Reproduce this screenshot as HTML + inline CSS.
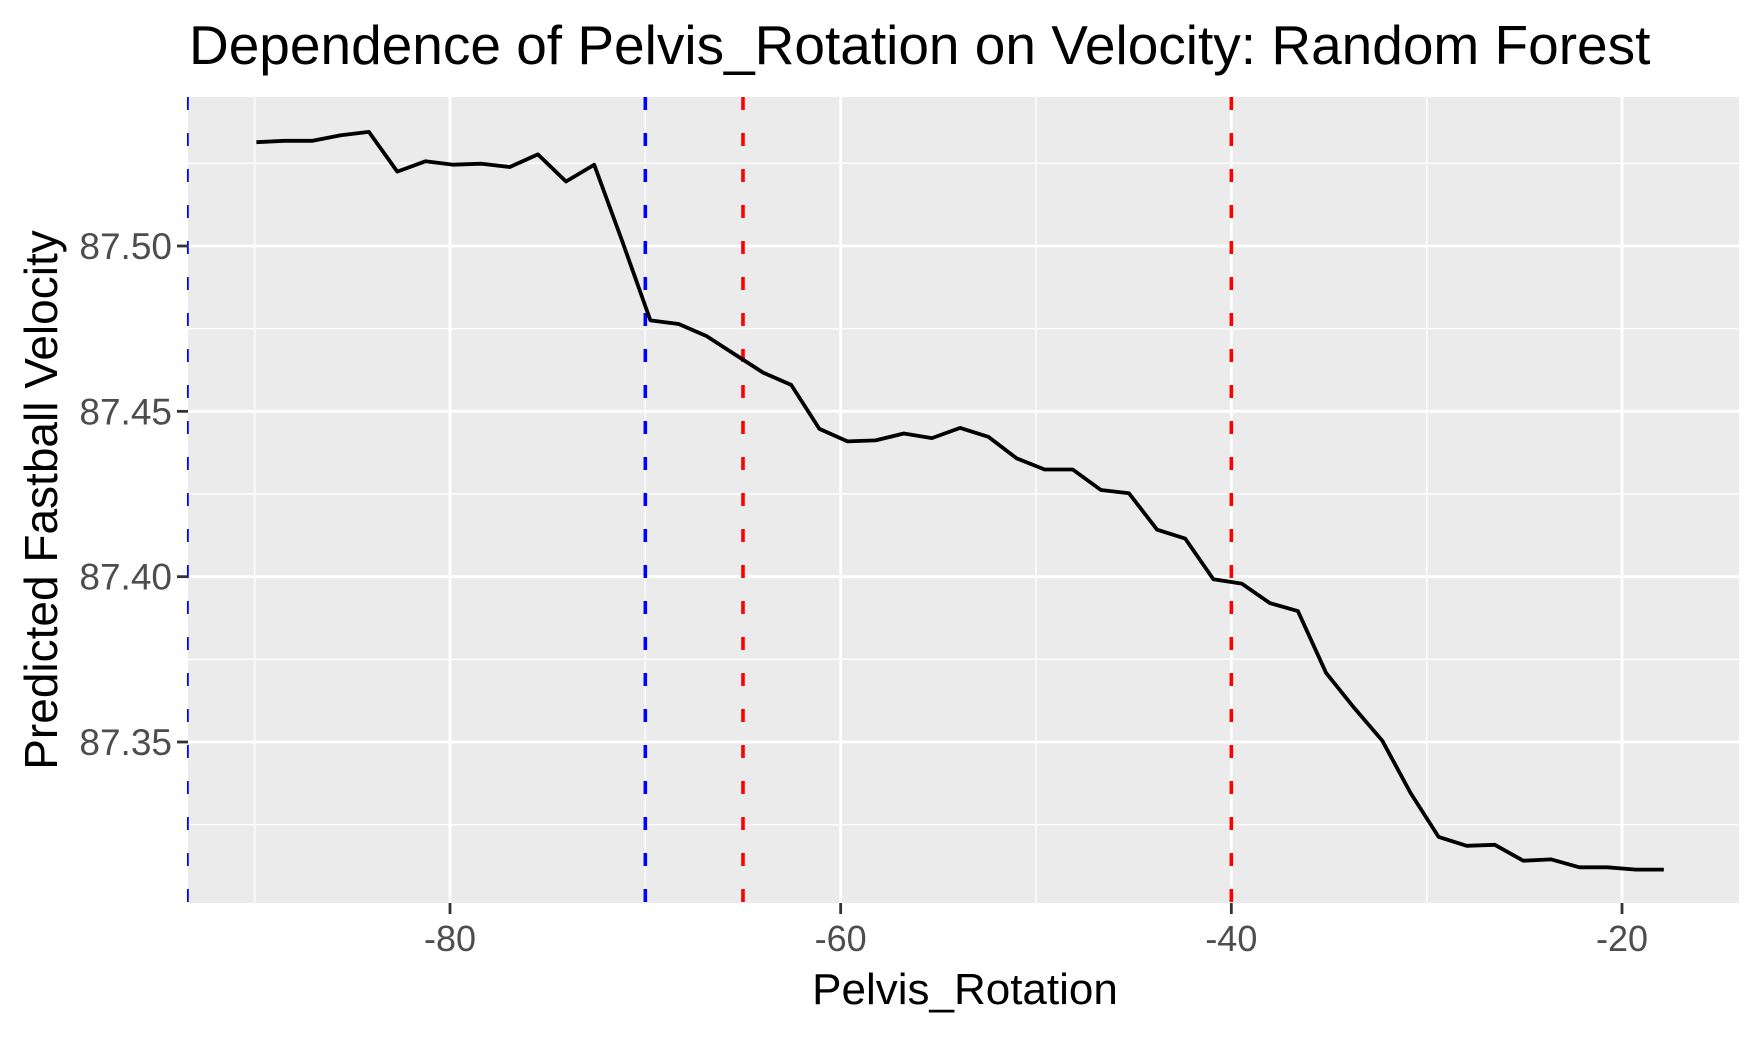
<!DOCTYPE html>
<html><head><meta charset="utf-8"><style>
html,body{margin:0;padding:0;background:#fff;}
svg text{font-family:"Liberation Sans",Arial,sans-serif;}
</style></head><body>
<svg id="chart" width="1762" height="1032" xmlns="http://www.w3.org/2000/svg">
<rect width="1762" height="1032" fill="#fff"/>
<text x="189" y="64" font-size="55" fill="#000">Dependence of Pelvis_Rotation on Velocity: Random Forest</text>
<rect x="188" y="97" width="1551" height="806" fill="#ebebeb"/>
<g id="grid"></g>
<g id="vlines"></g>
<g id="series"></g>
<g id="axes"></g>
<text x="965" y="1004" font-size="44" text-anchor="middle" fill="#000">Pelvis_Rotation</text>
<text transform="translate(57,500) rotate(-90)" font-size="46" text-anchor="middle" fill="#000">Predicted Fastball Velocity</text>
</svg>
<script>
const xValues=[-89.91,-88.47,-87.03,-85.59,-84.15,-82.70,-81.26,-79.82,-78.38,-76.94,-75.50,-74.06,-72.62,-71.18,-69.74,-68.29,-66.85,-65.41,-63.97,-62.53,-61.09,-59.65,-58.21,-56.77,-55.33,-53.88,-52.44,-51.00,-49.56,-48.12,-46.68,-45.24,-43.80,-42.36,-40.92,-39.47,-38.03,-36.59,-35.15,-33.71,-32.27,-30.83,-29.39,-27.95,-26.51,-25.06,-23.62,-22.18,-20.74,-19.30,-17.86];
const yValues=[87.5314,87.5318,87.5318,87.5335,87.5345,87.5225,87.5256,87.5246,87.5249,87.5239,87.5277,87.5195,87.5246,87.5014,87.4775,87.4764,87.4727,87.4672,87.4617,87.4580,87.4447,87.4409,87.4412,87.4433,87.4419,87.4450,87.4423,87.4358,87.4324,87.4324,87.4262,87.4252,87.4142,87.4115,87.3992,87.3979,87.3920,87.3896,87.3709,87.3603,87.3504,87.3346,87.3213,87.3186,87.3189,87.3141,87.3145,87.3121,87.3121,87.3114,87.3114];
const xTicks=[-80,-60,-40,-20];
const xTickLabels=["-80","-60","-40","-20"];
const xMinor=[-90,-70,-50,-30];
const yTicks=[87.35,87.40,87.45,87.50];
const yTickLabels=["87.35","87.40","87.45","87.50"];
const yMinor=[87.325,87.375,87.425,87.475,87.525];
const blueLines=[-93.42,-70];
const redLines=[-65,-40];

const NS="http://www.w3.org/2000/svg";
const PX0=188,PX1=1739,PY0=97,PY1=903;
function sx(v){return 450+(v+80)*(1622-450)/60;}
function sy(v){return 742-(v-87.35)*(742-246)/0.15;}
function mk(tag,attrs,parent){const e=document.createElementNS(NS,tag);for(const k in attrs)e.setAttribute(k,attrs[k]);document.getElementById(parent).appendChild(e);return e;}

xMinor.forEach(v=>{const l=mk('line',{x1:sx(v),x2:sx(v),y1:PY0,y2:PY1,stroke:'#fff','stroke-width':1.4},'grid');

});
yMinor.forEach(v=>{const l=mk('line',{x1:PX0,x2:PX1,y1:sy(v),y2:sy(v),stroke:'#fff','stroke-width':1.4},'grid');

});
xTicks.forEach((v,i)=>{const l=mk('line',{x1:sx(v),x2:sx(v),y1:PY0,y2:PY1,stroke:'#fff','stroke-width':2.8},'grid');


const t=mk('line',{x1:sx(v),x2:sx(v),y1:PY1,y2:PY1+11,stroke:'#333','stroke-width':2.8},'axes');


const tx=mk('text',{x:sx(v),y:PY1+48,'font-size':36,'text-anchor':'middle',fill:'#4d4d4d'},'axes');
tx.textContent=xTickLabels[i];

});
yTicks.forEach((v,i)=>{const l=mk('line',{x1:PX0,x2:PX1,y1:sy(v),y2:sy(v),stroke:'#fff','stroke-width':2.8},'grid');


const t=mk('line',{x1:PX0-11,x2:PX0,y1:sy(v),y2:sy(v),stroke:'#333','stroke-width':2.8},'axes');


const tx=mk('text',{x:PX0-16,y:sy(v)+13,'font-size':37,'text-anchor':'end',fill:'#4d4d4d'},'axes');
tx.textContent=yTickLabels[i];

});
blueLines.forEach(v=>{const l=mk('line',{x1:sx(v),x2:sx(v),y1:PY0,y2:PY1,stroke:'#0000ff','stroke-width':v<-90?1.8:3.6,'stroke-dasharray':'13 23'},'vlines');

});
redLines.forEach(v=>{const l=mk('line',{x1:sx(v),x2:sx(v),y1:PY0,y2:PY1,stroke:'#ff0000','stroke-width':3.6,'stroke-dasharray':'13 23'},'vlines');

});
const d=xValues.map((x,i)=>(i?'L':'M')+sx(x).toFixed(1)+','+sy(yValues[i]).toFixed(1)).join(' ');
const p=mk('path',{d:d,fill:'none',stroke:'#000','stroke-width':3.8,'stroke-linejoin':'round'},'series');


</script>
</body></html>
